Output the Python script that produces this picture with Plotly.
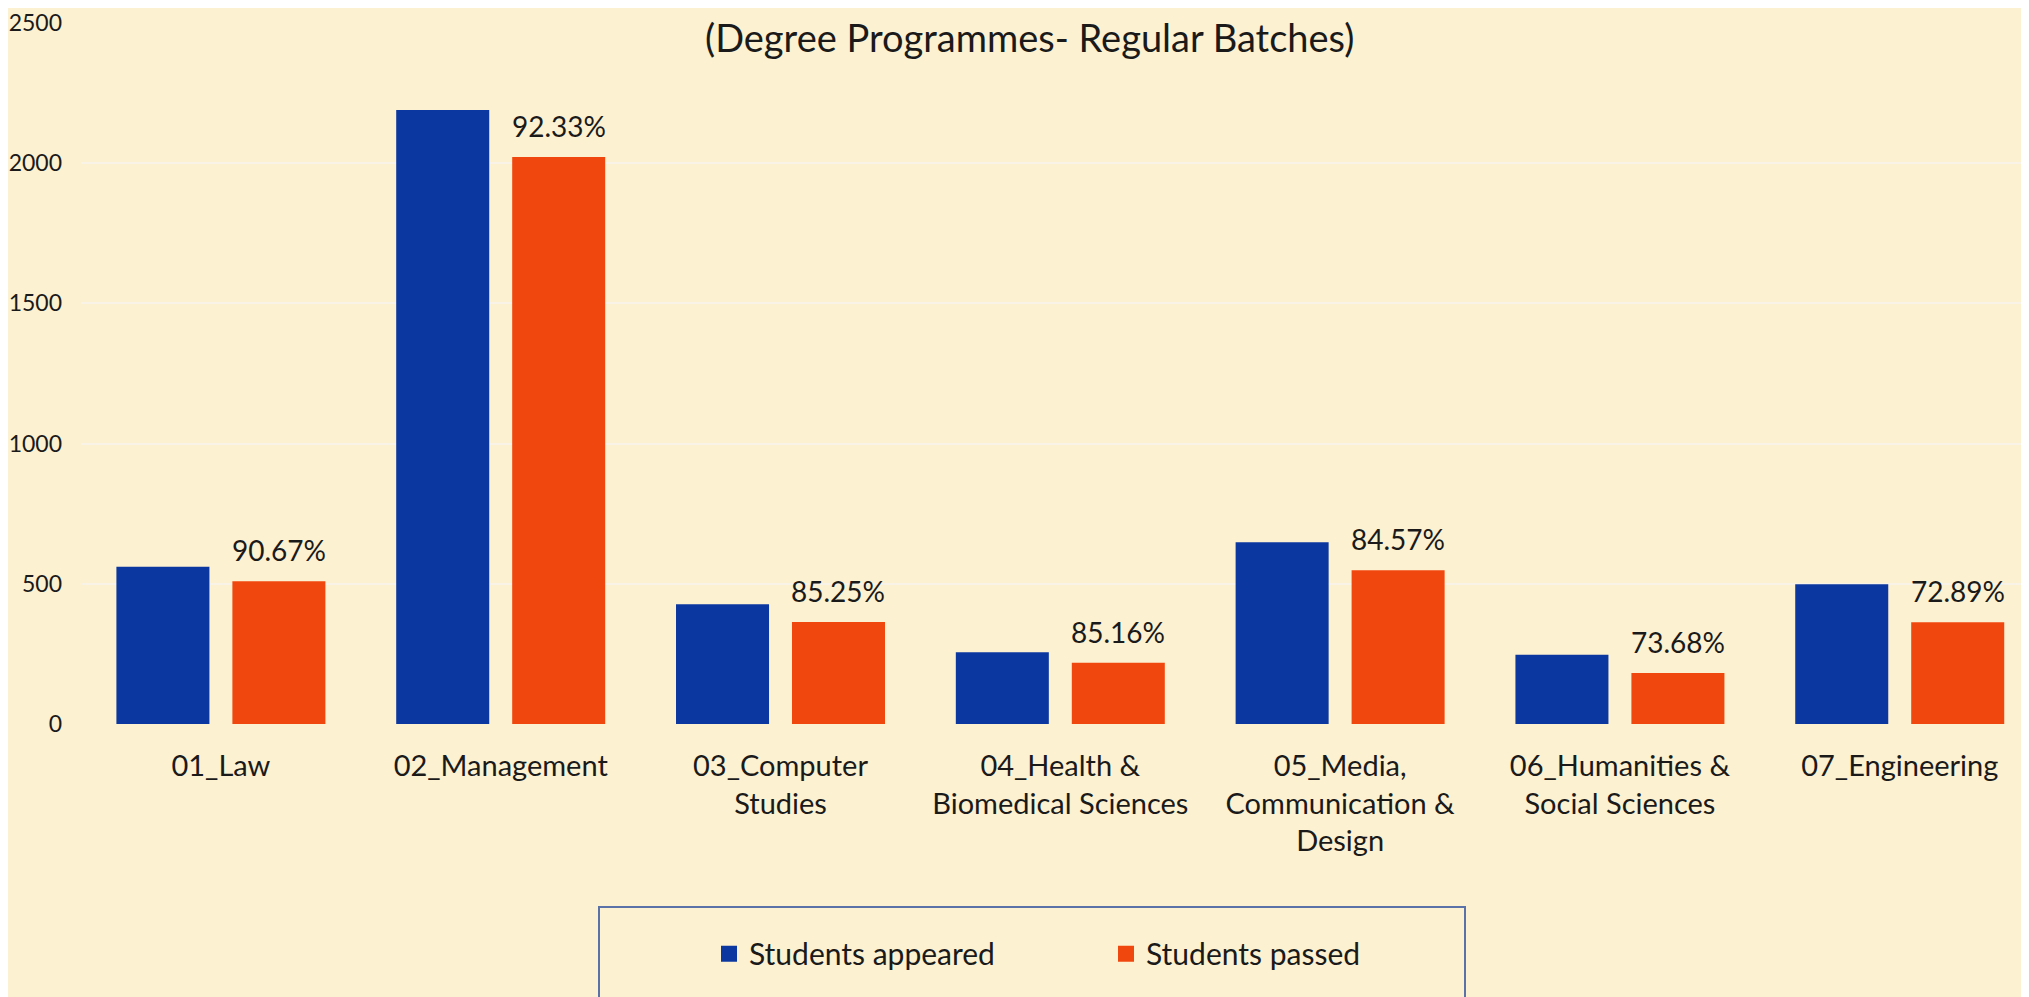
import plotly.graph_objects as go

categories = [
    "01_Law",
    "02_Management",
    "03_Computer<br>Studies",
    "04_Health &<br>Biomedical Sciences",
    "05_Media,<br>Communication &<br>Design",
    "06_Humanities &<br>Social Sciences",
    "07_Engineering",
]
appeared = [561, 2190, 427, 256, 648, 247, 498]
passed = [509, 2022, 364, 218, 548, 182, 363]
pass_rate_labels = ["90.67%", "92.33%", "85.25%", "85.16%", "84.57%", "73.68%", "72.89%"]
y_ticks = [0, 500, 1000, 1500, 2000, 2500]

BLUE = "#0B37A0"
ORANGE = "#F0470E"
BG = "#FCF1D1"
GRID = "#F8F3E6"
TEXT = "#1A1A1A"
FONT = "Lato"

# page body has an 8px margin; figure is sized to fit the remaining window
PAGE_OFF = 8
W, H = 2029 - PAGE_OFF, 997 - PAGE_OFF
PLOT_L, PLOT_R, PLOT_T, PLOT_B = 81, 2029, 19, 724  # page pixel coords
PW, PH = PLOT_R - PLOT_L, PLOT_B - PLOT_T
BARGAP, GROUPGAP = 0.171, 0.198
XRANGE = [-0.5, 6.462]
cat_px = PW / (XRANGE[1] - XRANGE[0])


def px(xp):
    return (xp - PLOT_L) / PW


def py(yp):
    return (PLOT_B - yp) / PH


fig = go.Figure()
fig.add_trace(go.Bar(x=categories, y=appeared, name="Students appeared",
                     marker=dict(color=BLUE, line=dict(width=0)), showlegend=False))
fig.add_trace(go.Bar(x=categories, y=passed, name="Students passed",
                     marker=dict(color=ORANGE, line=dict(width=0)), showlegend=False))

# legend-only entries with larger square symbols
fig.add_trace(go.Scatter(x=[None], y=[None], mode="markers", name="Students appeared",
                         marker=dict(symbol="square", size=17, color=BLUE)))
fig.add_trace(go.Scatter(x=[None], y=[None], mode="markers", name="Students passed",
                         marker=dict(symbol="square", size=17, color=ORANGE)))

# percentage labels above the orange bars
orange_shift = (1 - BARGAP) * cat_px / 4
for i, (v, lab) in enumerate(zip(passed, pass_rate_labels)):
    fig.add_annotation(x=i, y=v, text=lab, showarrow=False, xref="x", yref="y",
                       xshift=orange_shift, yanchor="bottom", yshift=12,
                       font=dict(family=FONT, size=28, color=TEXT))

fig.add_annotation(text="(Degree Programmes- Regular Batches)", xref="paper", yref="paper",
                   x=px(1029), y=py(33), showarrow=False,
                   xanchor="center", yanchor="middle",
                   font=dict(family=FONT, size=38, color=TEXT))

# legend frame
fig.add_shape(type="rect", xref="paper", yref="paper",
              x0=px(599), x1=px(1465), y0=py(908), y1=py(1020),
              line=dict(color="#5A72A8", width=2), fillcolor="rgba(0,0,0,0)")

fig.update_layout(
    width=W, height=H, autosize=False,
    margin=dict(l=PLOT_L - PAGE_OFF, r=0, t=PLOT_T - PAGE_OFF, b=H - (PLOT_B - PAGE_OFF)),
    paper_bgcolor=BG, plot_bgcolor=BG,
    barmode="group", bargap=BARGAP, bargroupgap=GROUPGAP,
    font=dict(family=FONT, color=TEXT),
    legend=dict(orientation="h", x=px(709), xanchor="left",
                y=py(955), yanchor="middle",
                font=dict(family=FONT, size=30, color=TEXT),
                bgcolor="rgba(0,0,0,0)", itemwidth=30, entrywidth=352, entrywidthmode="pixels"),
    xaxis=dict(type="category", range=XRANGE, showgrid=False, showline=False,
               zeroline=False, ticks="", tickfont=dict(family=FONT, size=29, color=TEXT),
               ticklabelstandoff=22),
    yaxis=dict(range=[0, 2500], tickvals=y_ticks, showgrid=True, gridcolor=GRID, gridwidth=2,
               zeroline=False, showline=False, ticks="", ticklabeloverflow="allow",
               tickfont=dict(family=FONT, size=23, color=TEXT), ticklabelstandoff=18),
)

fig.write_html("out.html")
